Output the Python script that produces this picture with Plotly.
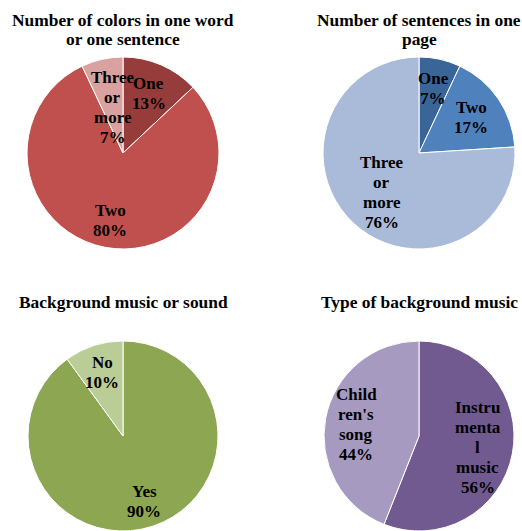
import math
import plotly.graph_objects as go

W, H = 522, 531

# ---- data ----
titles = [
    ["Number of colors in one word", "or one sentence"],
    ["Number of sentences in one", "page"],
    ["Background music or sound"],
    ["Type of background music"],
]
labels1 = ["One", "Two", "Three<br>or<br>more"]
values1 = [13, 80, 7]
labels2 = ["One", "Two", "Three<br>or<br>more"]
values2 = [7, 17, 76]
labels3 = ["Yes", "No"]
values3 = [90, 10]
labels4 = ["Instru<br>menta<br>l<br>music", "Child<br>ren's<br>song"]
values4 = [56, 44]

# ---- style ----
colors = [
    ["#963C3A", "#C0504D", "#D9A2A1"],
    ["#3A6598", "#4F81BD", "#AABBD9"],
    ["#8CA651", "#BACD97"],
    ["#715A90", "#A79AC0"],
]
centers = [(123, 153), (419, 153), (123, 437), (419, 437)]
radius = 96
label_r = [[0.68, 0.72, 0.49], [0.69, 0.66, 0.57], [0.73, 0.70], [0.63, 0.67]]
title_y = [[20, 39], [20, 39], [302], [302]]
FONT = "Liberation Serif"
LABEL_SIZE = 17
TITLE_SIZE = 17.4
LINE_H = 20

pies = [(labels1, values1), (labels2, values2), (labels3, values3), (labels4, values4)]

fig = go.Figure()
annotations = []
for i, (labs, vals) in enumerate(pies):
    cx, cy = centers[i]
    x0 = max(0, (cx - radius) / W)
    x1 = min(1, (cx + radius) / W)
    y0 = max(0, 1 - (cy + radius) / H)
    y1 = min(1, 1 - (cy - radius) / H)
    r_eff = min((x1 - x0) * W, (y1 - y0) * H) / 2
    pcx = (x0 + x1) / 2 * W
    pcy = (1 - (y0 + y1) / 2) * H
    fig.add_trace(go.Pie(
        labels=[l.replace("<br>", " ") for l in labs], values=vals,
        sort=False, direction="clockwise", rotation=0,
        marker=dict(colors=colors[i], line=dict(color="white", width=1)),
        textinfo="none", hoverinfo="skip", showlegend=False,
        domain=dict(x=[x0, x1], y=[y0, y1]),
    ))
    total = sum(vals)
    cum = 0
    for j, (lab, v) in enumerate(zip(labs, vals)):
        theta = 2 * math.pi * (cum + v / 2) / total
        cum += v
        rr = r_eff * label_r[i][j]
        lx = pcx + rr * math.sin(theta)
        ly = pcy - rr * math.cos(theta)
        lines = lab.split("<br>") + [f"{round(100 * v / total)}%"]
        n = len(lines)
        for k, line in enumerate(lines):
            yy = ly + (k - (n - 1) / 2) * LINE_H
            annotations.append(dict(
                x=lx / W, y=1 - yy / H, xref="paper", yref="paper",
                text=line, showarrow=False, xanchor="center", yanchor="middle",
                font=dict(family=FONT, size=LABEL_SIZE, color="black", weight="bold"),
            ))
    for k, line in enumerate(titles[i]):
        annotations.append(dict(
            x=cx / W, y=1 - title_y[i][k] / H, xref="paper", yref="paper",
            text=line, showarrow=False, xanchor="center", yanchor="middle",
            font=dict(family=FONT, size=TITLE_SIZE, color="black", weight="bold"),
        ))

fig.update_layout(
    width=W, height=H,
    margin=dict(l=0, r=0, t=0, b=0),
    paper_bgcolor="white", plot_bgcolor="white",
    annotations=annotations,
)
fig.write_html(
    "out.html",
    config={"displayModeBar": False},
    post_script="document.body.style.margin='0';document.body.style.overflow='hidden';",
)
